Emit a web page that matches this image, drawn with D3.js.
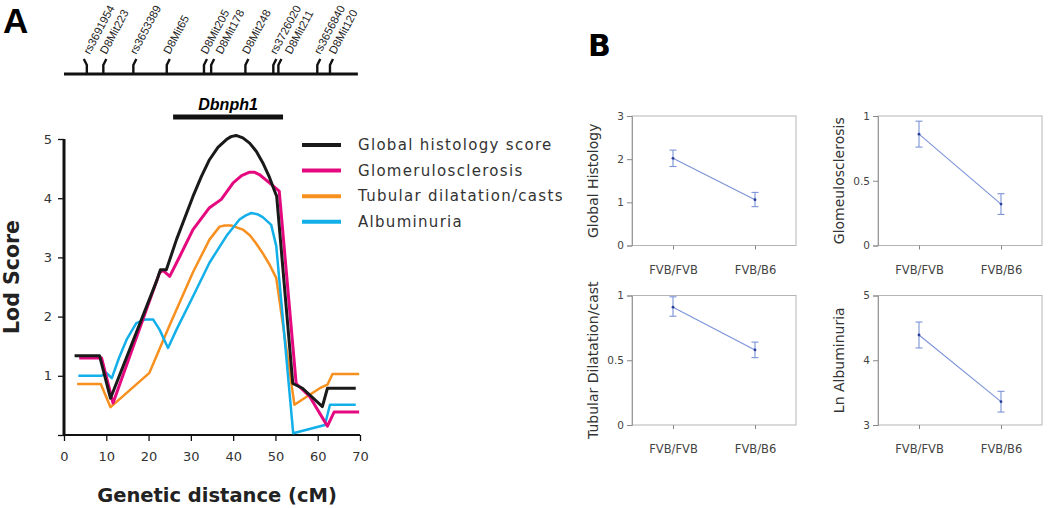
<!DOCTYPE html>
<html>
<head>
<meta charset="utf-8">
<script src="https://d3js.org/d3.v7.min.js"></script>
<style>
  body { margin: 0; background: #fff; }
  svg { display: block; background: #fff; }
</style>
</head>
<body>
<script>
// ---- panel A : LOD curves ----
var globalCM  = [2.5, 8.4, 11.0, 22.0, 22.8, 24.2, 26.6, 30.5, 32.5, 34.4, 36.4, 38.4, 39.5, 40.7, 42.3, 43.9, 45.5, 47.0, 48.6, 49.8, 50.3, 54.1, 56.4, 61.1, 62.3, 69.0];
var globalLOD = [1.34, 1.34, 0.62, 2.62, 2.79, 2.79, 3.3, 4.03, 4.37, 4.65, 4.86, 4.99, 5.04, 5.06, 5.02, 4.93, 4.79, 4.6, 4.35, 4.12, 4.03, 0.87, 0.79, 0.48, 0.79, 0.79];

var glomCM  = [3.6, 8.9, 11.6, 22.6, 23.4, 25.0, 27.4, 30.5, 34.4, 37.2, 40.0, 42.0, 43.9, 45.0, 46.2, 48.6, 50.9, 54.9, 58.1, 62.3, 63.9, 69.8];
var glomLOD = [1.30, 1.30, 0.54, 2.74, 2.78, 2.68, 3.02, 3.47, 3.84, 3.98, 4.26, 4.38, 4.44, 4.44, 4.40, 4.26, 4.12, 0.87, 0.65, 0.15, 0.39, 0.39];

var tubCM  = [3.1, 8.7, 11.0, 20.2, 25.0, 30.5, 34.4, 36.8, 38.0, 39.5, 42.3, 44.0, 45.4, 47.0, 48.6, 50.2, 54.5, 58.1, 60.5, 62.3, 63.5, 69.8];
var tubLOD = [0.86, 0.86, 0.47, 1.05, 1.86, 2.75, 3.3, 3.52, 3.54, 3.54, 3.47, 3.37, 3.24, 3.07, 2.88, 2.65, 0.51, 0.68, 0.79, 0.85, 1.03, 1.03];

var albCM  = [3.4, 8.9, 10.0, 11.3, 13.0, 14.8, 17.1, 19.1, 21.1, 22.6, 24.6, 26.6, 30.5, 34.4, 38.4, 41.5, 43.0, 44.3, 45.7, 47.0, 49.0, 50.2, 54.2, 61.7, 62.9, 69.0];
var albLOD = [1.00, 1.00, 1.05, 0.96, 1.3, 1.61, 1.89, 1.95, 1.95, 1.78, 1.47, 1.78, 2.34, 2.91, 3.36, 3.64, 3.71, 3.75, 3.73, 3.68, 3.55, 3.19, 0.03, 0.17, 0.51, 0.51];

var seriesNames  = ["Global histology score", "Glomerulosclerosis", "Tubular dilatation/casts", "Albuminuria"];
var seriesColors = ["#1a1a1a", "#e5097f", "#f7901e", "#12afe9"];

var markerNames = ["rs3691954", "D8Mit223", "rs3653389", "D8Mit65", "D8Mit205", "D8Mit178", "D8Mit248", "rs3726020", "D8Mit211", "rs3656840", "D8Mit120"];
var markerCM    = [5.4, 9.3, 16.4, 24.3, 33.1, 34.8, 42.9, 49.5, 50.7, 59.9, 62.9];
var qtlRange    = [25.8, 51.8]; // Dbnph1

var xTicksA = [0, 10, 20, 30, 40, 50, 60, 70];
var yTicksA = [1, 2, 3, 4, 5];

// ---- panel B : genotype means ----
var genotypes = ["FVB/FVB", "FVB/B6"];
var histMean = [2.02, 1.06], histLo = [1.83, 0.90], histHi = [2.21, 1.23];
var glsMean  = [0.86, 0.32], glsLo  = [0.76, 0.24], glsHi  = [0.96, 0.40];
var dilMean  = [0.91, 0.58], dilLo  = [0.84, 0.52], dilHi  = [0.99, 0.64];
var lnaMean  = [4.39, 3.36], lnaLo  = [4.19, 3.20], lnaHi  = [4.59, 3.52];

var W = 1050, H = 508;
var svg = d3.select("body").append("svg").attr("width", W).attr("height", H);
var sans = "DejaVu Sans, sans-serif";
var arial = "Liberation Sans, Arial, sans-serif";

// scales for A
var x = d3.scaleLinear().domain([0, 70]).range([64, 360]);
var y = d3.scaleLinear().domain([0, 5]).range([435, 139]);

svg.append("text").attr("x", 3).attr("y", 33)
  .style("font-family", arial).style("font-weight", "bold").style("font-size", "35px")
  .text("A");

// marker map
var mg = svg.append("g");
mg.append("line").attr("x1", x(0)).attr("x2", x(69.5)).attr("y1", 74).attr("y2", 74)
  .attr("stroke", "#111").attr("stroke-width", 3);
var prevLabel = -100;
markerCM.forEach(function(c, i){
  var mx = x(c);
  var dir = i === 0 ? -1 : 1;
  mg.append("path").attr("d", "M" + mx + ",74 L" + mx + ",65 L" + (mx + dir * 3) + ",59")
    .attr("fill", "none").attr("stroke", "#111").attr("stroke-width", 2.4);
  // labels are nudged apart when two markers sit close together
  var lx = Math.max(mx, prevLabel + 15);
  prevLabel = lx;
  mg.append("text")
    .attr("transform", "translate(" + (lx + 3) + ",55) rotate(-62)")
    .style("font-family", arial).style("font-size", "11.3px").attr("fill", "#222")
    .text(markerNames[i]);
});

// QTL bar
svg.append("rect").attr("x", x(qtlRange[0])).attr("y", 114.5).attr("width", x(qtlRange[1]) - x(qtlRange[0])).attr("height", 5)
  .attr("fill", "#111");
svg.append("text").attr("x", (x(qtlRange[0]) + x(qtlRange[1])) / 2).attr("y", 110).attr("text-anchor", "middle")
  .style("font-family", arial).style("font-weight", "bold").style("font-style", "italic")
  .style("font-size", "16px").text("Dbnph1");

// axes A
var yAxis = svg.append("g").attr("transform", "translate(64,0)")
  .call(d3.axisLeft(y).tickValues([0].concat(yTicksA)).tickSize(6).tickPadding(6)
    .tickFormat(function(d){ return d === 0 ? "" : d; }));
yAxis.select(".domain").attr("stroke", "#111").attr("stroke-width", 3).attr("d", "M0," + y(5) + "V" + y(0));
var xAxis = svg.append("g").attr("transform", "translate(0,435)")
  .call(d3.axisBottom(x).tickValues(xTicksA).tickSize(6).tickPadding(11));
xAxis.select(".domain").attr("stroke", "#111").attr("stroke-width", 2).attr("d", "M" + x(0) + ",0H" + x(70));
[yAxis, xAxis].forEach(function(a){
  a.selectAll(".tick line").attr("stroke", "#111").attr("stroke-width", 1.3);
  a.selectAll(".tick text").style("font-family", sans).style("font-size", "13px").attr("fill", "#333");
});

svg.append("text").attr("transform", "translate(19,277) rotate(-90)").attr("text-anchor", "middle")
  .style("font-family", sans).style("font-weight", "bold").style("font-size", "20.5px").attr("fill", "#222")
  .text("Lod Score");
svg.append("text").attr("x", 217).attr("y", 502).attr("text-anchor", "middle")
  .style("font-family", sans).style("font-weight", "bold").style("font-size", "19.5px").attr("fill", "#222")
  .text("Genetic distance (cM)");

// curves
var line = d3.line().x(function(d){ return x(d[0]); }).y(function(d){ return y(d[1]); });
var curves = [[globalCM, globalLOD], [glomCM, glomLOD], [tubCM, tubLOD], [albCM, albLOD]];
var widths = [3, 3, 2.5, 2.5];
[2, 3, 1, 0].forEach(function(k){
  var pts = d3.zip(curves[k][0], curves[k][1]);
  svg.append("path").datum(pts).attr("d", line).attr("fill", "none")
    .attr("stroke", seriesColors[k]).attr("stroke-width", widths[k]).attr("stroke-linejoin", "round");
});

// legend
var lg = svg.append("g");
seriesNames.forEach(function(n, i){
  var ly = 145 + i * 25.6;
  lg.append("line").attr("x1", 302).attr("x2", 341).attr("y1", ly).attr("y2", ly)
    .attr("stroke", seriesColors[i]).attr("stroke-width", 4);
  lg.append("text").attr("x", 358).attr("y", ly + 5)
    .style("font-family", sans).style("font-size", "15px").style("letter-spacing", "1.3px").attr("fill", "#333").text(n);
});

// ---- panel B ----
svg.append("text").attr("x", 588).attr("y", 56)
  .style("font-family", sans).style("font-weight", "bold").style("font-size", "30px")
  .text("B");

function smallPlot(left, top, title, domain, ticks, mean, lo, hi){
  var w = 164, h = 129.5;
  var g = svg.append("g").attr("transform", "translate(" + left + "," + top + ")");
  var sx = d3.scalePoint().domain(genotypes).range([0, w]).padding(0.5);
  var sy = d3.scaleLinear().domain(domain).range([h, 0]);
  g.append("rect").attr("width", w).attr("height", h).attr("fill", "none").attr("stroke", "#b5b5b5").attr("stroke-width", 1);
  var ya = g.append("g").call(d3.axisLeft(sy).tickValues(ticks).tickSize(5).tickPadding(3).tickFormat(d3.format("~g")));
  ya.select(".domain").attr("stroke", "#999");
  ya.selectAll(".tick line").attr("stroke", "#888");
  ya.selectAll(".tick text").style("font-family", sans).style("font-size", "10.5px").attr("fill", "#444");
  var xa = g.append("g").attr("transform", "translate(0," + h + ")")
    .call(d3.axisBottom(sx).tickSize(4).tickPadding(16));
  xa.select(".domain").remove();
  xa.selectAll(".tick line").attr("stroke", "#888");
  xa.selectAll(".tick text").style("font-family", sans).style("font-size", "11.5px").attr("fill", "#444");
  g.append("text").attr("transform", "translate(-34," + (h / 2) + ") rotate(-90)").attr("text-anchor", "middle")
    .style("font-family", sans).style("font-size", "14px").attr("fill", "#333").text(title);

  var blue = "#7b93d8";
  g.append("path").datum(genotypes.map(function(gt, i){ return [sx(gt), sy(mean[i])]; }))
    .attr("d", d3.line()).attr("fill", "none").attr("stroke", blue).attr("stroke-width", 1.1);
  genotypes.forEach(function(gt, i){
    var cx = sx(gt);
    g.append("line").attr("x1", cx).attr("x2", cx).attr("y1", sy(lo[i])).attr("y2", sy(hi[i])).attr("stroke", blue).attr("stroke-width", 1.1);
    [lo[i], hi[i]].forEach(function(v){
      g.append("line").attr("x1", cx - 3.5).attr("x2", cx + 3.5).attr("y1", sy(v)).attr("y2", sy(v)).attr("stroke", blue).attr("stroke-width", 1.1);
    });
    g.append("circle").attr("cx", cx).attr("cy", sy(mean[i])).attr("r", 1.4).attr("fill", "#2a3f9a");
  });
}

smallPlot(632, 116, "Global Histology", [0, 3], [0, 1, 2, 3], histMean, histLo, histHi);
smallPlot(878, 116, "Glomeulosclerosis", [0, 1], [0, 0.5, 1], glsMean, glsLo, glsHi);
smallPlot(632, 295.5, "Tubular Dilatation/cast", [0, 1], [0, 0.5, 1], dilMean, dilLo, dilHi);
smallPlot(878, 295.5, "Ln Albuminuria", [3, 5], [3, 4, 5], lnaMean, lnaLo, lnaHi);
</script>
</body>
</html>
